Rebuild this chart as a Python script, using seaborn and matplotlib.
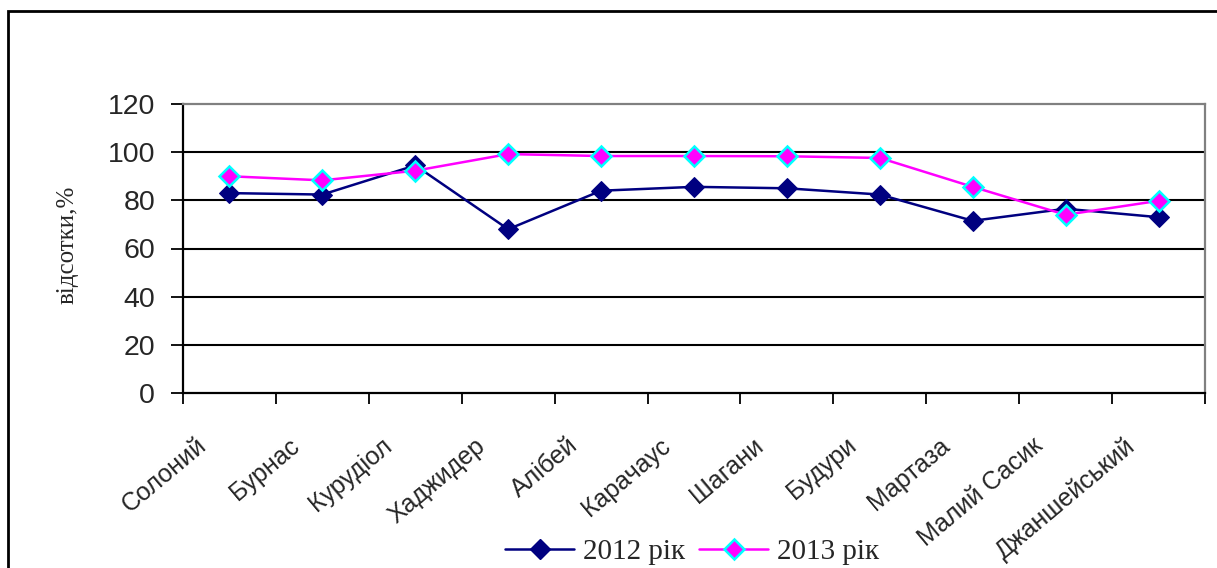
import matplotlib
matplotlib.use("Agg")
import matplotlib.pyplot as plt
import matplotlib.transforms as mtransforms
from matplotlib.lines import Line2D
from matplotlib.patches import Rectangle
import numpy as np
import pandas as pd
import seaborn as sns

# Lakes (categories) and shares for two years, %
lakes = ["Солоний", "Бурнас", "Курудіол", "Хаджидер", "Алібей", "Карачаус",
         "Шагани", "Будури", "Мартаза", "Малий Сасик", "Джаншейський"]
values_2012 = [83.0, 82.4, 94.5, 68.0, 84.0, 85.6, 85.0, 82.4, 71.5, 76.5, 73.0]
values_2013 = [90.0, 88.3, 92.3, 99.2, 98.4, 98.4, 98.3, 97.6, 85.6, 74.0, 79.8]
series_names = ["2012 рік", "2013 рік"]
y_ticks = [0, 20, 40, 60, 80, 100, 120]

sns.set_theme(style="white")
plt.rcParams["font.family"] = ["Liberation Sans", "DejaVu Sans"]

W, H = 1217, 568
fig = plt.figure(figsize=(W / 100, H / 100), dpi=100)
fig.patch.set_facecolor("white")

# outer chart border (open on the right and bottom)
fig.patches.append(Rectangle((8 / W, -0.1), 1.2, (1 - 11 / H) + 0.1,
                             transform=fig.transFigure, fill=False,
                             edgecolor="black", linewidth=2.0, zorder=0))

ax = fig.add_axes([183 / W, 1 - 393 / H, (1205 - 183) / W, (393 - 104) / H])

df = pd.DataFrame({
    "pos": list(range(len(lakes))) * 2,
    "value": values_2012 + values_2013,
    "year": [series_names[0]] * len(lakes) + [series_names[1]] * len(lakes),
})

style_2012 = dict(color="#000080", linewidth=1.8, marker="D", markersize=10,
                  markerfacecolor="#000080", markeredgecolor="#000080")
style_2013 = dict(color="#FF00FF", linewidth=1.8, marker="D", markersize=10,
                  markerfacecolor="#FF00FF", markeredgecolor="#00FFFF",
                  markeredgewidth=1.8)

sns.lineplot(data=df[df["year"] == series_names[0]], x="pos", y="value",
             ax=ax, legend=False, zorder=3, **style_2012)
sns.lineplot(data=df[df["year"] == series_names[1]], x="pos", y="value",
             ax=ax, legend=False, zorder=4, **style_2013)

n = len(lakes)
ax.set_xlim(-0.5, n - 0.5)
ax.set_ylim(0, 120)

# horizontal gridlines
for yv in y_ticks[1:-1]:
    ax.axhline(yv, color="black", linewidth=1.5, zorder=1)

# spines
for side in ["left", "bottom"]:
    ax.spines[side].set_color("black")
    ax.spines[side].set_linewidth(1.6)
for side in ["top", "right"]:
    ax.spines[side].set_color("#808080")
    ax.spines[side].set_linewidth(1.6)

ax.set_yticks(y_ticks)
ax.set_yticklabels([str(v) for v in y_ticks], fontsize=20.5)
ax.tick_params(axis="y", direction="out", length=9, width=1.3,
               color="black", left=True, pad=11)

# x ticks at category boundaries, labels at category centres
ax.set_xticks(np.arange(-0.5, n, 1.0))
ax.set_xticklabels([])
ax.tick_params(axis="x", which="major", direction="out", length=8,
               width=1.3, color="black", bottom=True)
ax.set_xticks(np.arange(n), minor=True)
ax.set_xticklabels(lakes, minor=True, rotation=40, ha="right",
                   rotation_mode="anchor", fontsize=18)
ax.tick_params(axis="x", which="minor", length=0, pad=29)
offset = mtransforms.ScaledTranslation(-34 / 100, 0, fig.dpi_scale_trans)
for lbl in ax.get_xticklabels(minor=True):
    lbl.set_transform(lbl.get_transform() + offset)

ax.set_xlabel("")
ax.set_ylabel("відсотки,%", fontsize=18, family="Liberation Serif")
ax.yaxis.set_label_coords((79 - 183) / 1022, (393 - 245) / 289)

handles = [Line2D([], [], **style_2012), Line2D([], [], **style_2013)]
fig.legend(handles, series_names, loc="center",
           bbox_to_anchor=(692 / W, 1 - 552 / H),
           ncol=2, frameon=False, prop={"family": "Liberation Serif", "size": 21},
           handlelength=2.35, handletextpad=0.3, columnspacing=0.5,
           borderaxespad=0, borderpad=0)

fig.savefig("out.png", dpi=100, facecolor="white")
